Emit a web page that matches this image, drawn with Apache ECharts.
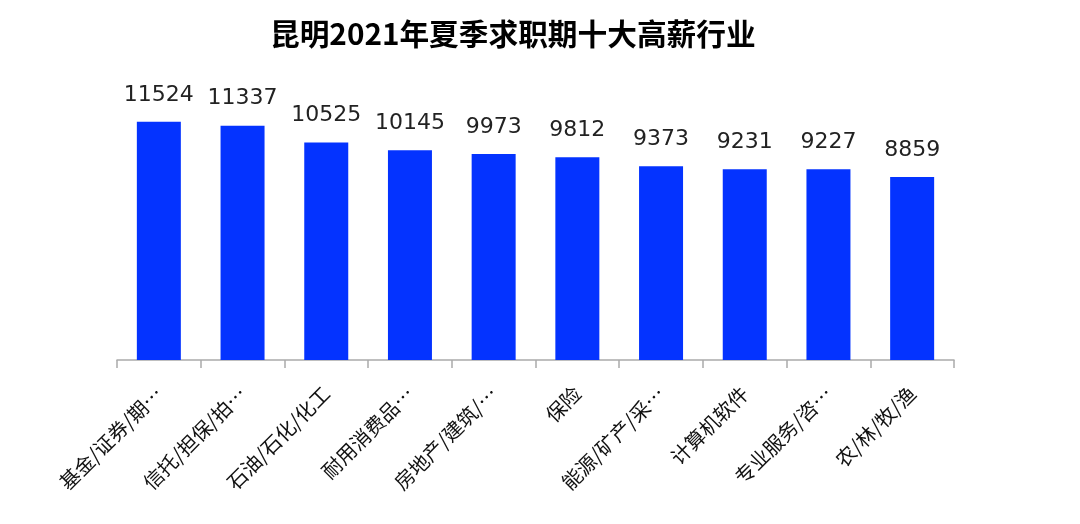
<!DOCTYPE html>
<html>
<head>
<meta charset="utf-8">
<script src="https://cdn.jsdelivr.net/npm/echarts@6/dist/echarts.min.js"></script>
<style>
  html, body { margin: 0; padding: 0; background: #fff; }
  #main { width: 1080px; height: 524px; }
</style>
</head>
<body>
<div id="main"></div>
<script>
  // category names as shown (already cut off in the source picture)
  var categories = ['基金/证券/期…', '信托/担保/拍…', '石油/石化/化工', '耐用消费品…', '房地产/建筑/…',
    '保险', '能源/矿产/采…', '计算机软件', '专业服务/咨…', '农/林/牧/渔'];
  var salary = [11524, 11337, 10525, 10145, 9973, 9812, 9373, 9231, 9227, 8859];

  var cjk = "'Noto Sans CJK SC', sans-serif";
  var num = "'DejaVu Sans', sans-serif";
  var myChart = echarts.init(document.getElementById('main'));
  var opt = {
    backgroundColor: '#fff',
    animation: false,
    title: {
      text: '昆明2021年夏季求职期十大高薪行业',
      left: 265,
      top: 14,
      textStyle: { fontFamily: cjk, fontSize: 29.7, fontWeight: 'bold', color: '#000' }
    },
    grid: { left: 117, right: 126, top: 112, bottom: 164 },
    xAxis: {
      type: 'category',
      data: categories,
      axisLine: { lineStyle: { color: '#aaa', width: 1.5 } },
      axisTick: { show: true, length: 8, lineStyle: { color: '#aaa', width: 1.5 } },
      axisLabel: {
        interval: 0,
        rotate: 45,
        margin: 30,
        fontFamily: cjk,
        fontSize: 20,
        color: '#111'
      }
    },
    yAxis: {
      type: 'value',
      min: 0,
      max: 12000,
      show: false
    },
    series: [{
      type: 'bar',
      data: salary,
      barWidth: 44,
      itemStyle: { color: '#0433ff' },
      label: {
        show: true,
        position: 'top',
        distance: 16,
        fontFamily: num,
        fontSize: 22,
        color: '#222'
      }
    }]
  };
  myChart.setOption(opt);
</script>
</body>
</html>
